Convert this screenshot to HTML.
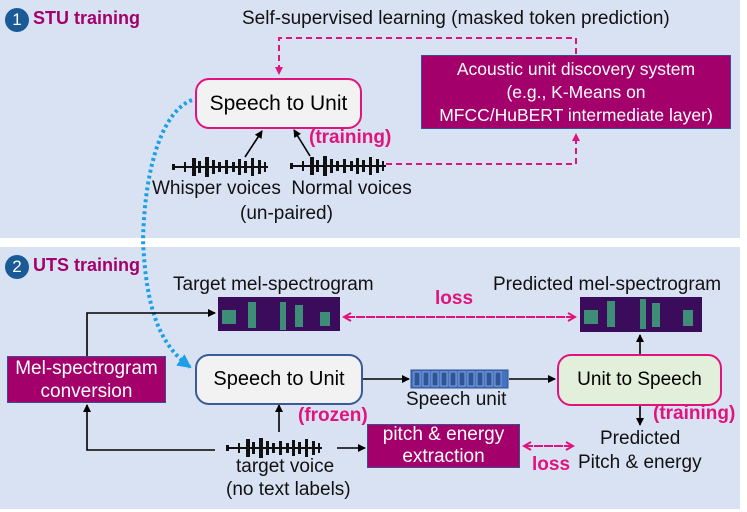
<!DOCTYPE html>
<html><head><style>
body{margin:0;width:747px;height:512px;background:#fff;font-family:"Liberation Sans",sans-serif;position:relative;overflow:hidden}
.a{position:absolute}
.t{position:absolute;white-space:nowrap;font-size:19px;color:#111}
.m{color:#e0147c;font-weight:bold}
.box{position:absolute;display:flex;align-items:center;justify-content:center;text-align:center;box-sizing:border-box}
.pur{background:#a3006b;color:#fff;border:1px solid #3a4d8f;line-height:23px}
</style></head><body>
<div class="a" style="left:0;top:0;width:740px;height:238px;background:#d9e2f3"></div>
<div class="a" style="left:0;top:247px;width:740px;height:262px;background:#d9e2f3"></div>

<div class="a" style="left:5px;top:8px;width:24px;height:24px;border-radius:50%;background:#1a5a96;color:#fff;font-size:17px;text-align:center;line-height:24px">1</div>
<div class="t" style="left:33px;top:8px;color:#a3006b;font-weight:bold;font-size:18px">STU training</div>
<div class="a" style="left:5px;top:255px;width:24px;height:24px;border-radius:50%;background:#1a5a96;color:#fff;font-size:17px;text-align:center;line-height:24px">2</div>
<div class="t" style="left:33px;top:255px;color:#a3006b;font-weight:bold;font-size:18px">UTS training</div>

<div class="t" style="left:242px;top:8px">Self-supervised learning (masked token prediction)</div>

<svg class="a" style="left:0;top:0" width="747" height="512">
<defs>
<marker id="k" markerWidth="8" markerHeight="8" refX="7" refY="4" orient="auto" markerUnits="userSpaceOnUse"><path d="M0,0L8,4L0,8z" fill="#000"/></marker>
<marker id="p" markerWidth="10" markerHeight="10" refX="8" refY="5" orient="auto" markerUnits="userSpaceOnUse"><path d="M1,1L8,5L1,9" fill="none" stroke="#e0147c" stroke-width="2"/></marker>
<marker id="pf" markerWidth="8" markerHeight="8" refX="7" refY="4" orient="auto" markerUnits="userSpaceOnUse"><path d="M0,0L8,4L0,8z" fill="#e0147c"/></marker>
<marker id="b" markerWidth="14" markerHeight="14" refX="12" refY="7" orient="auto" markerUnits="userSpaceOnUse"><path d="M0,0L14,7L0,14z" fill="#1ea0e6"/></marker>
<g id="w">
<path d="M0,0h96" stroke="#111" stroke-width="2"/>
<rect x="0" y="-3" width="3" height="6"/><rect x="12" y="-5" width="2" height="10"/><rect x="20" y="-9" width="4" height="18"/><rect x="26" y="-6" width="3" height="12"/><rect x="33" y="-10" width="4" height="20"/><rect x="40" y="-7" width="3" height="14"/><rect x="46" y="-5" width="3" height="10"/><rect x="53" y="-7" width="3" height="14"/><rect x="60" y="-5" width="3" height="10"/><rect x="66" y="-8" width="3" height="16"/><rect x="72" y="-6" width="3" height="12"/><rect x="79" y="-9" width="3" height="18"/><rect x="86" y="-7" width="3" height="14"/><rect x="92" y="-5" width="2" height="10"/>
</g>
</defs>
<g stroke="#e0147c" stroke-width="2" stroke-dasharray="6,4" fill="none">
<path d="M576,54V38H279V74" marker-end="url(#pf)"/>
<path d="M386,164H576V134" marker-end="url(#pf)"/>
<path d="M575,317H344" marker-end="url(#p)"/>
<path d="M346,317H575" marker-end="url(#p)"/>
<path d="M524,446H573" marker-end="url(#p)"/>
<path d="M573,446H524" marker-end="url(#p)"/>
</g>
<path d="M192,100C165,110 145,160 143,240C146,310 160,345 190,367" stroke="#1ea0e6" stroke-width="4" stroke-dasharray="3,3" fill="none" marker-end="url(#b)"/>
<g stroke="#000" stroke-width="1.6" fill="none">
<path d="M245,157L262,131" marker-end="url(#k)"/>
<path d="M310,156L294,130" marker-end="url(#k)"/>
<path d="M87,356V313H215" marker-end="url(#k)"/>
<path d="M215,450H87V405" marker-end="url(#k)"/>
<path d="M279,432V405" marker-end="url(#k)"/>
<path d="M337,448H365" marker-end="url(#k)"/>
<path d="M363,379H409" marker-end="url(#k)"/>
<path d="M509,379H555" marker-end="url(#k)"/>
<path d="M640,354V335" marker-end="url(#k)"/>
<path d="M640,405V425" marker-end="url(#k)"/>
</g>
<g fill="#111">
<use href="#w" transform="translate(172,167)"/>
<use href="#w" transform="translate(290,166)"/>
<use href="#w" transform="translate(226,448)"/>
</g>
<rect x="218" y="297" width="122" height="34" fill="#3b0c5c"/>
<rect x="580" y="297" width="122" height="35" fill="#3b0c5c"/>
<g fill="#3fae7d" opacity=".8">
<rect x="222" y="310" width="14" height="14"/><rect x="248" y="302" width="8" height="26"/><rect x="280" y="302" width="6" height="28"/><rect x="295" y="305" width="8" height="22"/><rect x="320" y="312" width="10" height="14"/>
<rect x="584" y="310" width="14" height="14"/><rect x="607" y="301" width="8" height="26"/><rect x="640" y="299" width="6" height="30"/><rect x="652" y="303" width="8" height="24"/><rect x="683" y="310" width="10" height="16"/>
</g>
<rect x="411" y="370" width="97" height="18" fill="#4472c4" stroke="#2f528f"/>
<g fill="#2f5597" stroke="#8fb0e0" stroke-width="0.8">
<rect x="414" y="372" width="6" height="14"/><rect x="423" y="372" width="6" height="14"/><rect x="432" y="372" width="6" height="14"/><rect x="441" y="372" width="6" height="14"/><rect x="450" y="372" width="6" height="14"/><rect x="459" y="372" width="6" height="14"/><rect x="468" y="372" width="6" height="14"/><rect x="477" y="372" width="6" height="14"/><rect x="486" y="372" width="6" height="14"/><rect x="495" y="372" width="6" height="14"/>
</g>
</svg>

<div class="box" style="left:195px;top:78px;width:167px;height:51px;background:#f2f2f2;border:2px solid #e0147c;border-radius:14px;font-size:21px">Speech to Unit</div>
<div class="box pur" style="left:421px;top:55px;width:310px;height:74px;font-size:17.5px">Acoustic unit discovery system<br>(e.g., K-Means on<br>MFCC/HuBERT intermediate layer)</div>
<div class="t m" style="left:309px;top:127px">(training)</div>
<div class="t" style="left:152px;top:178px">Whisper voices&nbsp; Normal voices</div>
<div class="t" style="left:240px;top:203px">(un-paired)</div>

<div class="t" style="left:173px;top:274px">Target mel-spectrogram</div>
<div class="t" style="left:493px;top:274px">Predicted mel-spectrogram</div>
<div class="t m" style="left:435px;top:288px">loss</div>
<div class="box pur" style="left:7px;top:356px;width:159px;height:47px;font-size:19px">Mel-spectrogram<br>conversion</div>
<div class="box" style="left:195px;top:354px;width:168px;height:51px;background:#f2f2f2;border:2px solid #3a5a9a;border-radius:14px;font-size:20px">Speech to Unit</div>
<div class="t" style="left:406px;top:389px">Speech unit</div>
<div class="box" style="left:557px;top:354px;width:165px;height:52px;background:#e2efda;border:2px solid #e0147c;border-radius:14px;font-size:19px">Unit to Speech</div>
<div class="t m" style="left:298px;top:405px">(frozen)</div>
<div class="t m" style="left:653px;top:403px">(training)</div>
<div class="box pur" style="left:367px;top:424px;width:153px;height:44px;font-size:19px;line-height:22px">pitch &amp; energy<br>extraction</div>
<div class="t m" style="left:532px;top:454px">loss</div>
<div class="t" style="left:600px;top:428px">Predicted</div>
<div class="t" style="left:578px;top:452px">Pitch &amp; energy</div>
<div class="t" style="left:236px;top:456px">target voice</div>
<div class="t" style="left:226px;top:479px">(no text labels)</div>
</body></html>
